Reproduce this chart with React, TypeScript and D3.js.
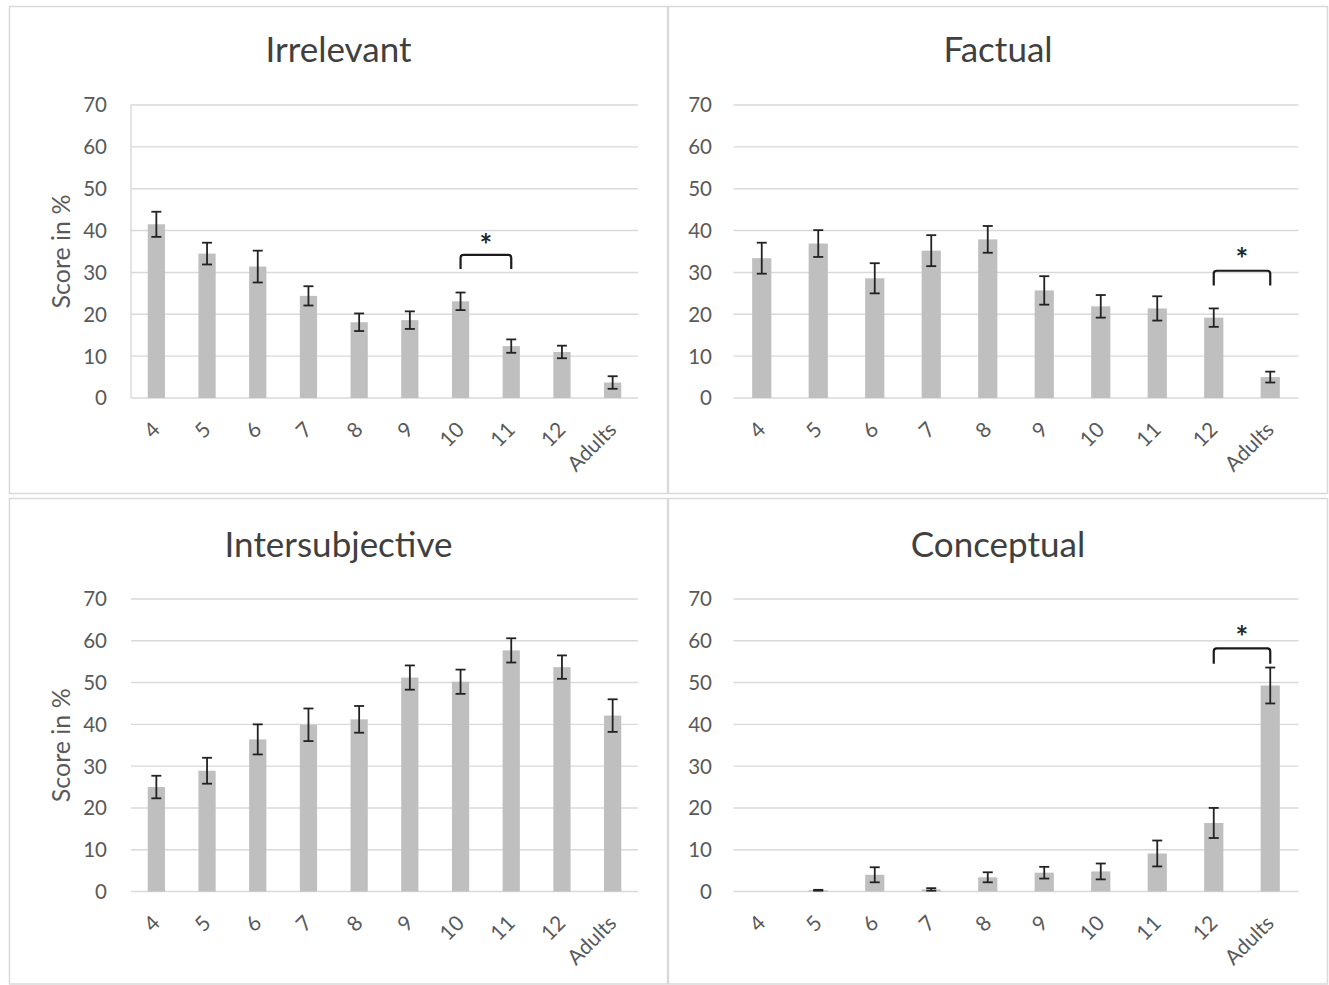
import React from 'react';
import * as d3 from 'd3';

// age groups on the x axis
const categories = ['4', '5', '6', '7', '8', '9', '10', '11', '12', 'Adults'];
const yTicks = [0, 10, 20, 30, 40, 50, 60, 70];

const irrelevantMeans = [41.5, 34.5, 31.4, 24.4, 18.1, 18.6, 23.1, 12.4, 11.0, 3.7];
const irrelevantErrors = [3.0, 2.6, 3.8, 2.3, 2.1, 2.1, 2.1, 1.6, 1.5, 1.5];
const factualMeans = [33.4, 36.9, 28.6, 35.2, 37.9, 25.7, 21.9, 21.4, 19.2, 5.0];
const factualErrors = [3.7, 3.2, 3.6, 3.7, 3.2, 3.4, 2.7, 2.9, 2.2, 1.3];
const intersubjectiveMeans = [25.0, 28.9, 36.4, 39.9, 41.2, 51.2, 50.2, 57.7, 53.7, 42.1];
const intersubjectiveErrors = [2.7, 3.1, 3.6, 3.9, 3.2, 2.9, 2.9, 2.9, 2.8, 3.9];
const conceptualMeans = [0, 0.3, 4.0, 0.5, 3.4, 4.5, 4.8, 9.1, 16.4, 49.3];
const conceptualErrors = [0, 0.1, 1.8, 0.3, 1.2, 1.4, 1.9, 3.1, 3.6, 4.3];

// significance brackets (values in score units)
const irrelevantBracket = { from: '10', to: '11', top: 34.2, leg: 30.8, star: 38.3 };
const factualBracket = { from: '12', to: 'Adults', top: 30.4, leg: 26.9, star: 34.8 };
const conceptualBracket = { from: '12', to: 'Adults', top: 58.2, leg: 54.5, star: 62.6 };

type Bracket = { from: string; to: string; top: number; leg: number; star: number };

type PanelProps = {
  title: string;
  means: number[];
  errors: number[];
  bracket?: Bracket;
  box: [number, number, number, number];
  xRange: [number, number];
  yRange: [number, number];
  titleY: number;
  tickX: number;
  yLabel?: boolean;
  axisLine?: boolean;
};

const FONT = 'Lato, "Open Sans", sans-serif';
const TEXT = '#595959';

const Panel: React.FC<PanelProps> = ({
  title, means, errors, bracket, box, xRange, yRange, titleY, tickX, yLabel, axisLine,
}) => {
  const x = d3.scaleBand<string>().domain(categories).range(xRange).paddingInner(0.66).paddingOuter(0.33);
  const y = d3.scaleLinear().domain([0, 70]).range(yRange);
  const cx = (c: string) => (x(c) ?? 0) + x.bandwidth() / 2;
  const capW = 5;

  return (
    <g>
      <rect x={box[0]} y={box[1]} width={box[2]} height={box[3]} fill="#fff" stroke="#d9d9d9" strokeWidth={1.5} />
      <text x={box[0] + box[2] / 2} y={titleY} textAnchor="middle" fontSize={35} fill="#404040"
        fontFamily={FONT}>{title}</text>

      {yTicks.map(t => (
        <g key={t}>
          <line x1={xRange[0]} x2={xRange[1]} y1={y(t)} y2={y(t)} stroke="#d9d9d9" strokeWidth={1.4} />
          <text x={tickX} y={y(t)} dy="0.36em" textAnchor="end" fontSize={20.5} fill={TEXT}
            fontFamily={FONT}>{t}</text>
        </g>
      ))}
      {axisLine && <line x1={xRange[0]} x2={xRange[0]} y1={y(70)} y2={y(0)} stroke="#d9d9d9" strokeWidth={1.4} />}

      {yLabel && (
        <text transform={`translate(70,${(y(0) + y(70)) / 2}) rotate(-90)`} textAnchor="middle" fontSize={25}
          fill={TEXT} fontFamily={FONT}>Score in %</text>
      )}

      {categories.map((c, i) => (
        <g key={c}>
          {means[i] > 0 && (
            <rect x={x(c)} y={y(means[i])} width={x.bandwidth()} height={y(0) - y(means[i])} fill="#bfbfbf" />
          )}
          {(means[i] > 0 || errors[i] > 0) && (
            <g stroke="#222" strokeWidth={1.8}>
              <line x1={cx(c)} x2={cx(c)} y1={y(means[i] - errors[i])} y2={y(means[i] + errors[i])} />
              <line x1={cx(c) - capW} x2={cx(c) + capW} y1={y(means[i] + errors[i])} y2={y(means[i] + errors[i])} />
              <line x1={cx(c) - capW} x2={cx(c) + capW} y1={y(means[i] - errors[i])} y2={y(means[i] - errors[i])} />
            </g>
          )}
          <text transform={`translate(${cx(c) + 5},${y(0) + 33}) rotate(-45)`} textAnchor="end" fontSize={21}
            fill={TEXT} fontFamily={FONT}>{c}</text>
        </g>
      ))}

      {bracket && (
        <g>
          <path
            d={`M${cx(bracket.from)},${y(bracket.leg)} V${y(bracket.top) + 3} Q${cx(bracket.from)},${y(bracket.top)} ${cx(bracket.from) + 3},${y(bracket.top)} H${cx(bracket.to) - 3} Q${cx(bracket.to)},${y(bracket.top)} ${cx(bracket.to)},${y(bracket.top) + 3} V${y(bracket.leg)}`}
            fill="none" stroke="#1a1a1a" strokeWidth={2.2} />
          <text x={(cx(bracket.from) + cx(bracket.to)) / 2} y={y(bracket.star)} dy="0.6em" textAnchor="middle"
            fontSize={30} fontWeight="bold" fill="#262626" fontFamily={FONT}>*</text>
        </g>
      )}
    </g>
  );
};

const App: React.FC = () => (
  <svg width={1329} height={985} style={{ position: 'absolute', left: 0, top: 0, background: '#fff' }}>
    <rect width={1329} height={985} fill="#fff" />
    <Panel title="Irrelevant" means={irrelevantMeans} errors={irrelevantErrors} bracket={irrelevantBracket}
      box={[9.5, 6.5, 658, 487]} xRange={[131, 638]} yRange={[398, 105]} titleY={62} tickX={107} yLabel axisLine />
    <Panel title="Factual" means={factualMeans} errors={factualErrors} bracket={factualBracket}
      box={[668.5, 6.5, 659, 487]} xRange={[733.5, 1298.5]} yRange={[398, 105]} titleY={62} tickX={712} />
    <Panel title="Intersubjective" means={intersubjectiveMeans} errors={intersubjectiveErrors}
      box={[9.5, 498.5, 658, 485.5]} xRange={[131, 638]} yRange={[891.5, 599]} titleY={557} tickX={107} yLabel />
    <Panel title="Conceptual" means={conceptualMeans} errors={conceptualErrors} bracket={conceptualBracket}
      box={[668.5, 498.5, 659, 485.5]} xRange={[733.5, 1298.5]} yRange={[891.5, 599]} titleY={557} tickX={712} />
  </svg>
);

export default App;
